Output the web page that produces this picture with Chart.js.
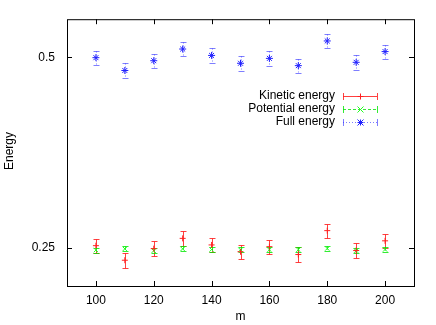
<!DOCTYPE html>
<html><head><meta charset="utf-8">
<script src="https://cdn.jsdelivr.net/npm/chart.js@4/dist/chart.umd.min.js"></script>
<style>html,body{margin:0;padding:0;background:#fff}#wrap{width:436px;height:325px}</style>
</head><body><div id="wrap"><canvas id="c" width="436" height="325"></canvas></div>
<script>
const mValues = [100,110,120,130,140,150,160,170,180,190,200];
const kinetic = [0.2517,0.2387,0.2490,0.2585,0.2524,0.2462,0.2508,0.2437,0.2659,0.2473,0.2562];
const kineticErr = [0.0066,0.0064,0.0066,0.0067,0.0066,0.0065,0.0066,0.0065,0.0070,0.0065,0.0067];
const potential = [0.2477,0.2488,0.2471,0.2488,0.2482,0.2480,0.2480,0.2480,0.2491,0.2471,0.2482];
const potentialErr = [0.0022,0.0022,0.0022,0.0022,0.0022,0.0022,0.0022,0.0022,0.0022,0.0022,0.0022];
const fullEnergy = [0.4995,0.4767,0.4940,0.5155,0.5036,0.4894,0.4982,0.4852,0.5309,0.4911,0.5107];
const fullErr = [0.013,0.0125,0.013,0.0135,0.013,0.013,0.013,0.0127,0.014,0.013,0.0133];
const xTicks = [100,120,140,160,180,200];
const yTicks = [0.25,0.5];
const seriesNames = ['Kinetic energy','Potential energy','Full energy'];

const FONT = 'Liberation Sans, Arial, Helvetica, sans-serif';
const cols = ['#ff2020', '#20ff20', '#2020ff'];
const barCols = ['rgba(255,30,30,0.85)', 'rgba(0,230,0,0.8)', 'rgba(40,40,255,0.6)'];
const dashes = [[], [3,2], [1,2]];
const styles = ['cross','crossRot','star'];
const errs = [kineticErr, potentialErr, fullErr];

function drawMarker(ctx, style, x, y, r){
  ctx.beginPath();
  if(style==='cross'||style==='star'){ctx.moveTo(x-r,y);ctx.lineTo(x+r,y);ctx.moveTo(x,y-r);ctx.lineTo(x,y+r);}
  if(style==='crossRot'||style==='star'){ctx.moveTo(x-r,y-r);ctx.lineTo(x+r,y+r);ctx.moveTo(x-r,y+r);ctx.lineTo(x+r,y-r);}
  ctx.stroke();
}

const gnuPlugin = {
  id:'gnu',
  beforeDatasetsDraw(chart){
    const {ctx, scales:{x,y}} = chart;
    ctx.save();
    ctx.lineWidth = 1;
    chart.data.datasets.forEach((ds,i)=>{
      ctx.strokeStyle = barCols[i];
      ds.data.forEach((p,j)=>{
        const e = errs[i][j];
        const px = Math.round(x.getPixelForValue(p.x))+0.5;
        const y1 = Math.round(y.getPixelForValue(p.y+e))+0.5, y2 = Math.round(y.getPixelForValue(p.y-e))+0.5;
        ctx.setLineDash(dashes[i]);
        ctx.beginPath(); ctx.moveTo(px,y1); ctx.lineTo(px,y2); ctx.stroke();
        ctx.setLineDash([]);
        ctx.beginPath();
        ctx.moveTo(px-3,y1); ctx.lineTo(px+3,y1);
        ctx.moveTo(px-3,y2); ctx.lineTo(px+3,y2);
        ctx.stroke();
      });
    });
    ctx.restore();
  },
  afterDraw(chart){
    const {ctx, chartArea:a, scales:{x,y}} = chart;
    ctx.save();
    ctx.strokeStyle = '#000'; ctx.lineWidth = 1; ctx.setLineDash([]);
    ctx.strokeRect(a.left+0.5, a.top+0.5, a.right-a.left, a.bottom-a.top);
    ctx.beginPath();
    xTicks.forEach(v=>{const px=Math.round(x.getPixelForValue(v))+0.5;
      ctx.moveTo(px,a.bottom); ctx.lineTo(px,a.bottom-5);
      ctx.moveTo(px,a.top); ctx.lineTo(px,a.top+5);});
    yTicks.forEach(v=>{const py=Math.round(y.getPixelForValue(v))+0.5;
      ctx.moveTo(a.left,py); ctx.lineTo(a.left+5,py);
      ctx.moveTo(a.right,py); ctx.lineTo(a.right-5,py);});
    ctx.stroke();
    ctx.fillStyle = '#000';
    ctx.font = '12px ' + FONT;
    ctx.textAlign = 'center'; ctx.textBaseline = 'middle';
    ctx.fillText('m', (a.left+a.right)/2, 317);
    ctx.save(); ctx.translate(10, 151); ctx.rotate(-Math.PI/2); ctx.fillText('Energy',0,0); ctx.restore();
    const rows = [96,109,122];
    ctx.textAlign = 'right';
    seriesNames.forEach((n,i)=>{
      const ry = rows[i];
      ctx.fillStyle = '#000';
      ctx.fillText(n, 335, ry);
      ctx.strokeStyle = barCols[i];
      ctx.setLineDash(dashes[i]);
      ctx.beginPath(); ctx.moveTo(343,ry+0.5); ctx.lineTo(377,ry+0.5); ctx.stroke();
      ctx.setLineDash([]);
      ctx.beginPath(); ctx.moveTo(343.5,ry-3); ctx.lineTo(343.5,ry+4); ctx.moveTo(377.5,ry-3); ctx.lineTo(377.5,ry+4); ctx.stroke();
      ctx.strokeStyle = cols[i];
      drawMarker(ctx, styles[i], 360.5, ry+0.5, 3);
    });
    ctx.restore();
  }
};

const mk = (vals)=>mValues.map((m,i)=>({x:m,y:vals[i]}));
new Chart(document.getElementById('c'), {
  type:'scatter',
  data:{datasets:[
    {label:seriesNames[0], data:mk(kinetic), pointStyle:'cross', pointRadius:3, borderColor:cols[0], backgroundColor:cols[0], borderWidth:1, showLine:false},
    {label:seriesNames[1], data:mk(potential), pointStyle:'crossRot', pointRadius:3, borderColor:cols[1], backgroundColor:cols[1], borderWidth:1, showLine:false},
    {label:seriesNames[2], data:mk(fullEnergy), pointStyle:'star', pointRadius:3.5, borderColor:cols[2], backgroundColor:cols[2], borderWidth:1, showLine:false}
  ]},
  options:{
    responsive:false, animation:false, devicePixelRatio:1,
    layout:{padding:{top:13,right:22,left:0,bottom:0}},
    plugins:{legend:{display:false}, tooltip:{enabled:false}},
    scales:{
      x:{type:'linear', min:90, max:210,
        afterBuildTicks:s=>{s.ticks = xTicks.map(v=>({value:v}));},
        afterFit:s=>{s.height = 39;},
        grid:{display:false, drawTicks:false}, border:{display:false},
        ticks:{color:'#000', font:{family:FONT,size:12}, padding:7, maxRotation:0, autoSkip:false}},
      y:{type:'logarithmic', min:0.2173, max:0.5747,
        afterBuildTicks:s=>{s.ticks = yTicks.map(v=>({value:v}));},
        afterFit:s=>{s.width = 67;},
        grid:{display:false, drawTicks:false}, border:{display:false},
        ticks:{color:'#000', font:{family:FONT,size:12}, padding:12, autoSkip:false, callback:v=>String(v)}}
    }
  },
  plugins:[gnuPlugin]
});
</script></body></html>
